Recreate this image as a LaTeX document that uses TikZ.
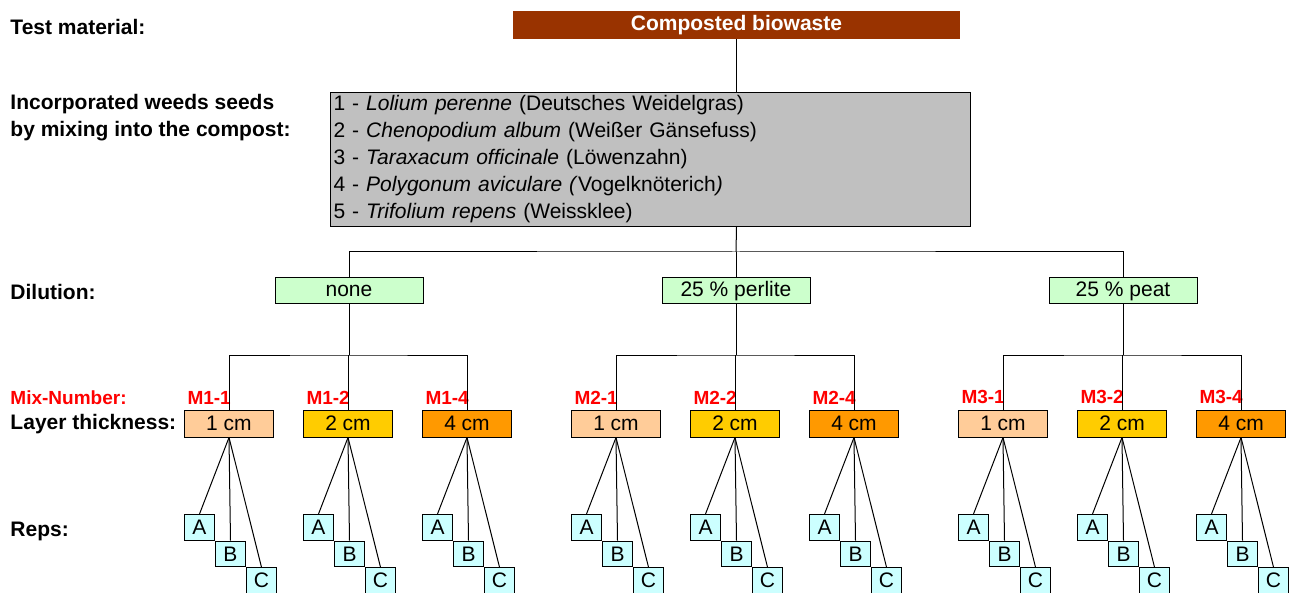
\documentclass[tikz,border=0pt]{standalone}
\usepackage{fontspec}
\setmainfont{Liberation Sans}
\usetikzlibrary{positioning,calc}
\definecolor{biobrown}{HTML}{993300}
\definecolor{seedgray}{HTML}{C0C0C0}
\definecolor{dilgreen}{HTML}{CCFFCC}
\definecolor{repcyan}{HTML}{CCFFFF}
\definecolor{layerone}{HTML}{FFCC99}
\definecolor{layertwo}{HTML}{FFCC00}
\definecolor{layerfour}{HTML}{FF9900}
\definecolor{mixred}{HTML}{FF0000}

\begin{document}
\begin{tikzpicture}[x=0.5pt,y=-0.5pt,line width=0.5pt,font=\fontsize{10.5}{13.5}\selectfont,
   lbl/.style={anchor=west,inner sep=0pt,font=\fontsize{10.5}{13.5}\selectfont\bfseries},
   dilbox/.style={draw,fill=dilgreen,minimum width=74pt,minimum height=13pt,inner sep=0pt},
   laybox/.style={draw,minimum width=44.5pt,minimum height=13.5pt,inner sep=0pt},
   repbox/.style={draw,fill=repcyan,minimum width=15pt,minimum height=12.8pt,inner sep=0pt},
   mixlbl/.style={text=mixred,inner sep=0pt,font=\fontsize{9.5}{11}\selectfont\bfseries}]
  \useasboundingbox (0,0) rectangle (1296,593);
  \clip (0,0) rectangle (1296,593);

  % row labels on the left
  \node[lbl] (tmlbl) at (10,27) {Test material:};
  \node[lbl,align=left] (seedlbl) at (10,118) {Incorporated weeds seeds\\by mixing into the compost:};
  \node[lbl] (dillbl) at (10,292) {Dilution:};
  \node[lbl,mixlbl,anchor=west] (mixlbl) at (10,398) {Mix-Number:};
  \node[lbl] (laylbl) at (10,424) {Layer thickness:};
  \node[lbl] (replbl) at (10,531) {Reps:};

  % test material and seeds
  \node[fill=biobrown,text=white,font=\fontsize{10.5}{13.5}\selectfont\bfseries,
        minimum width=223.5pt,minimum height=14pt,inner sep=0pt] (bio) at (736.5,25) {Composted biowaste};
  \node[draw,fill=seedgray,anchor=north west,text width=317pt,align=left,
        inner xsep=1.5pt,inner ysep=1pt,minimum height=67pt] (seeds) at (330,92)
       {1 - \textit{Lolium perenne} (Deutsches Weidelgras)\\
        2 - \textit{Chenopodium album} (Weißer Gänsefuss)\\
        3 - \textit{Taraxacum officinale} (Löwenzahn)\\
        4 - \textit{Polygonum aviculare (}Vogelknöterich\textit{)}\\
        5 - \textit{Trifolium repens} (Weissklee)};
  \draw (bio.south) -- (bio.south |- seeds.north);

  % dilution level
  \coordinate (j0) at (736,252);
  \draw (seeds.south -| bio.south) -- (j0);
  \foreach \g/\dx/\dtext in {1/349/none,2/736/25 \% perlite,3/1123/25 \% peat}{
    \node[dilbox] (dil\g) at (\dx,291) {\dtext};
    \coordinate (j\g) at (\dx,355);
    \draw (dil\g.south) -- (j\g);
    % layer thickness and reps
    \foreach \k/\t/\c in {-120/1/layerone,-1/2/layertwo,118/4/layerfour}{
      \node[laybox,fill=\c] (lay\g\t) at (\dx+\k,423.5) {\t\ cm};
      \node[mixlbl,above right=2.5pt and 1.5pt of lay\g\t.north west] (mix\g\t) {M\g-\t};
      \node[repbox,anchor=north west] (repA\g\t) at (lay\g\t.south west |- 0,514) {A};
      \node[repbox,below right=0pt and 0pt of repA\g\t] (repB\g\t) {B};
      \node[repbox,below right=0pt and 0pt of repB\g\t] (repC\g\t) {C};
      \foreach \r in {A,B,C}
        \draw (lay\g\t.south) -- (rep\r\g\t.north);
    }
    \draw (lay\g1.north) |- (j\g) -| (lay\g4.north);
    \draw (lay\g2.north) -- (lay\g2.north |- j\g);
  }
  \draw (dil1.north) |- (j0) -| (dil3.north);
  \draw (dil2.north) -- (j0);
\end{tikzpicture}
\end{document}
